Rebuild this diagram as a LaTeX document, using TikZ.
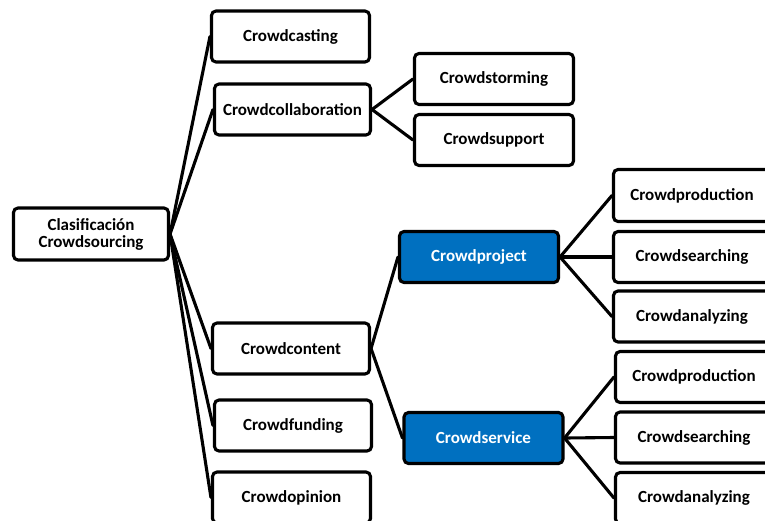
\documentclass[tikz,border=0pt]{standalone}
\usepackage{fontspec}
\setmainfont{Carlito}
\definecolor{boxblue}{HTML}{0070C0}
\begin{document}
\begin{tikzpicture}[x=1pt,y=-1pt,
  box/.style={draw=black, line width=3.1pt, rounded corners=4.5pt, fill=white,
    minimum width=#1, minimum height=51pt, inner sep=2pt, align=center,
    font=\fontsize{17}{18}\selectfont\bfseries},
  box/.default=158pt,
  bluebox/.style={box=#1, fill=boxblue, text=white},
  bluebox/.default=159pt,
  conn/.style={line width=3.1pt, line cap=round}]
\useasboundingbox (0,0) rectangle (765,520);
\clip (0,0) rectangle (765,520);
% nodes
\node[box=155pt, minimum height=52pt] (root) at (91,234) {Clasificación\\[-1pt]Crowdsourcing};
\node[box] (casting) at (290.5,36.5) {Crowdcasting};
\node[box=156pt] (collab) at (292.5,109.5) {Crowdcollaboration};
\node[box=159pt] (storm) at (494,79) {Crowdstorming};
\node[box=159pt] (support) at (494,140) {Crowdsupport};
\node[box=157pt] (content) at (291,348.5) {Crowdcontent};
\node[box=157pt] (funding) at (293,425.5) {Crowdfunding};
\node[box] (opinion) at (291.5,497.5) {Crowdopinion};
\node[bluebox] (project) at (479,257) {Crowdproject};
\node[bluebox] (service) at (483.5,438) {Crowdservice};
\node[box=157pt, minimum height=52pt] (prodA) at (692,195.5) {Crowdproduction};
\node[box=157pt] (searchA) at (692,257) {Crowdsearching};
\node[box=157pt] (analyzA) at (692,316.5) {Crowdanalyzing};
\node[box=157pt] (prodB) at (694,377) {Crowdproduction};
\node[box=157pt] (searchB) at (694,437.5) {Crowdsearching};
\node[box=157pt] (analyzB) at (694,498) {Crowdanalyzing};
% connectors
\foreach \c in {casting,collab,content,funding,opinion}
  \draw[conn] (root.east) -- (\c.west);
\foreach \c in {storm,support}
  \draw[conn] (collab.east) -- (\c.west);
\foreach \c in {project,service}
  \draw[conn] (content.east) -- (\c.west);
\foreach \c in {prodA,searchA,analyzA}
  \draw[conn] (project.east) -- (\c.west);
\foreach \c in {prodB,searchB,analyzB}
  \draw[conn] (service.east) -- (\c.west);
\end{tikzpicture}
\end{document}
